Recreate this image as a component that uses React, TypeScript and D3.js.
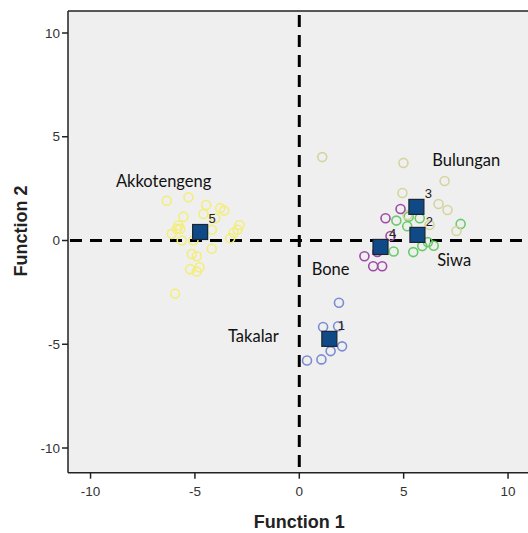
import React from "react";
import * as d3 from "d3";

// ---- data ----
const groupNames = ["Takalar", "Siwa", "Bulungan", "Bone", "Akkotengeng"];
const groupColors = ["#7b8dd2", "#6acb6a", "#d6d49e", "#a04aa8", "#f3ee7c"];

const takalarPts: [number, number][] = [
  [1.9, -3.0], [1.14, -4.17], [1.86, -4.13], [2.05, -5.1], [1.5, -5.33], [1.06, -5.73], [0.37, -5.78],
];
const siwaPts: [number, number][] = [
  [4.65, 0.96], [5.24, 1.15], [5.77, 1.07], [5.17, 0.69], [7.73, 0.8], [4.52, -0.53], [5.46, -0.56],
  [5.89, -0.27], [6.16, -0.08], [6.44, -0.25],
];
const bulunganPts: [number, number][] = [
  [1.1, 4.02], [4.99, 3.74], [6.96, 2.87], [4.94, 2.29], [6.67, 1.76], [7.1, 1.47], [5.18, 1.23],
  [6.24, 0.75], [7.53, 0.46],
];
const bonePts: [number, number][] = [
  [4.85, 1.52], [4.13, 1.07], [4.37, 0.22], [3.74, -0.55], [3.12, -0.76], [3.54, -1.24], [3.97, -1.24],
];
const akkotengengPts: [number, number][] = [
  [-6.35, 1.92], [-5.31, 2.08], [-4.46, 1.71], [-3.79, 1.56], [-3.6, 1.44], [-4.59, 1.28], [-5.55, 1.15],
  [-4.03, 1.07], [-4.19, 0.52], [-5.79, 0.72], [-5.71, 0.56], [-6.11, 0.32], [-5.63, 0.0], [-5.07, 0.0],
  [-4.19, -0.4], [-5.15, -0.65], [-4.91, -0.76], [-5.23, -1.38], [-4.78, -1.29], [-4.91, -1.5],
  [-5.95, -2.56], [-2.86, 0.75], [-2.96, 0.52], [-3.15, 0.37], [-3.31, 0.11], [-5.87, 0.56],
];
const groupPoints = [takalarPts, siwaPts, bulunganPts, bonePts, akkotengengPts];

const centroidIds = ["1", "2", "3", "4", "5"];
const centroidX = [1.44, 5.66, 5.61, 3.89, -4.75];
const centroidY = [-4.74, 0.27, 1.62, -0.31, 0.41];

// group label anchors (data coords, text centre)
const annX = [-2.2, 7.42, 8.0, 1.5, -6.5];
const annY = [-4.62, -0.95, 3.88, -1.37, 2.85];

const xTicks = [-10, -5, 0, 5, 10];
const yTicks = [-10, -5, 0, 5, 10];

export default function App() {
  const W = 528, H = 533;
  const left = 68, top = 11, bottom = 472.7, right = 531;
  const x = d3.scaleLinear().domain([-11.08, 11.1]).range([left, right]);
  const y = d3.scaleLinear().domain([-11.19, 11.06]).range([bottom, top]);
  const sq = 15;
  const tickFont = "Arial, 'Liberation Sans', sans-serif";
  const labelFont = "Lato, 'Open Sans', sans-serif";

  return (
    <div style={{ position: "absolute", left: 0, top: 0, width: W, height: H, background: "#fff" }}>
      <svg width={W} height={H} style={{ display: "block" }}>
        <defs>
          <clipPath id="plotclip">
            <rect x={left} y={top} width={right - left} height={bottom - top} />
          </clipPath>
        </defs>
        <rect x={left} y={top} width={right - left} height={bottom - top} fill="#efefef" />
        <line x1={left} x2={W} y1={top} y2={top} stroke="#222" strokeWidth={1.5} />

        {/* reference lines */}
        <g clipPath="url(#plotclip)">
          <line x1={left} x2={right} y1={y(0)} y2={y(0)} stroke="#000" strokeWidth={3} strokeDasharray="12,8" strokeDashoffset={-2} />
          <line x1={x(0)} x2={x(0)} y1={top} y2={bottom} stroke="#000" strokeWidth={3} strokeDasharray="12,8" strokeDashoffset={-4} />
        </g>

        {/* axes */}
        <line x1={left} x2={left} y1={top} y2={bottom} stroke="#222" strokeWidth={1.5} />
        <line x1={left} x2={W} y1={bottom} y2={bottom} stroke="#222" strokeWidth={1.5} />
        {yTicks.map((t) => (
          <g key={"yt" + t}>
            <line x1={left - 6} x2={left} y1={y(t)} y2={y(t)} stroke="#222" strokeWidth={1.5} />
            <text x={left - 8} y={y(t)} dy="0.35em" textAnchor="end" fontFamily={tickFont} fontSize={13.5} fill="#333">
              {t}
            </text>
          </g>
        ))}
        {xTicks.map((t) => (
          <g key={"xt" + t}>
            <line x1={x(t)} x2={x(t)} y1={bottom} y2={bottom + 6} stroke="#222" strokeWidth={1.5} />
            <text x={x(t)} y={bottom + 23} textAnchor="middle" fontFamily={tickFont} fontSize={13.5} fill="#333">
              {t}
            </text>
          </g>
        ))}
        <text x={x(0)} y={528} textAnchor="middle" fontFamily={tickFont} fontWeight="bold" fontSize={18} fill="#222">
          Function 1
        </text>
        <text transform={`translate(${27},${231}) rotate(-90)`} textAnchor="middle" fontFamily={tickFont} fontWeight="bold" fontSize={18} fill="#222">
          Function 2
        </text>

        {/* points */}
        {groupPoints.map((pts, gi) =>
          pts.map((p, i) => (
            <circle key={`p${gi}-${i}`} cx={x(p[0])} cy={y(p[1])} r={4.5} fill="none" stroke={groupColors[gi]} strokeWidth={1.6} />
          ))
        )}

        {/* centroids */}
        {centroidIds.map((id, i) => (
          <g key={"c" + id}>
            <rect x={x(centroidX[i]) - sq / 2} y={y(centroidY[i]) - sq / 2} width={sq} height={sq} fill="#104a86" stroke="#1b2430" strokeWidth={1.2} />
            <text x={x(centroidX[i]) + 12} y={y(centroidY[i]) - 9} textAnchor="middle" fontFamily={tickFont} fontSize={13} fill="#222">
              {id}
            </text>
          </g>
        ))}

        {/* group labels */}
        {groupNames.map((name, gi) => (
          <text key={"l" + gi} x={x(annX[gi])} y={y(annY[gi])} dy="0.35em" textAnchor="middle" fontFamily={labelFont} fontSize={16.5} fill="#111">
            {name}
          </text>
        ))}
      </svg>
    </div>
  );
}
